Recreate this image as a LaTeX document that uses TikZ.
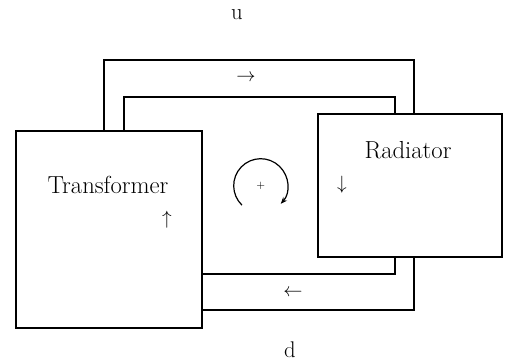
\documentclass[tikz,border=0pt]{standalone}
\usetikzlibrary{calc,arrows.meta}
\begin{document}
\begin{tikzpicture}[x=0.75pt,y=-0.75pt,
  box/.style={draw,line width=0.9pt,inner sep=0pt,outer sep=0pt},
  pipe/.style={line width=0.9pt},
  lbl/.style={inner sep=0pt,font=\fontsize{18.5}{22}\selectfont},
  ltr/.style={inner sep=0pt,font=\fontsize{17}{20}\selectfont},
  flow/.style={inner sep=0pt,font=\fontsize{14}{16}\selectfont}]
\useasboundingbox (0,0) rectangle (506,362);
% boxes
\node[box,minimum width=139.5pt,minimum height=147.75pt] (T) at (109,229.5) {};
\node[box,minimum width=138pt,minimum height=107.25pt] (R) at (410,185.5) {};
\node[lbl] (Tl) at (108,185) {Transformer};
\node[lbl] (Rl) at (408,150) {Radiator};
% pipes
\draw[pipe] ($(T.north west)+(88,0)$) -- ++(0,-71) -| ($(R.north west)+(96,0)$);
\draw[pipe] ($(T.north west)+(108,0)$) -- ++(0,-34) -| ($(R.north west)+(77,0)$);
\draw[pipe] ($(R.south west)+(77,0)$) |- ($(T.north east)+(0,143)$);
\draw[pipe] ($(R.south west)+(96,0)$) |- ($(T.north east)+(0,179)$);
% flow arrows
\node[flow] (ar1) at (246,78) {$\rightarrow$};
\node[flow] (ar2) at (293,293) {$\leftarrow$};
\node[flow] (ar3) at (167,220) {$\uparrow$};
\node[flow] (ar4) at (342,185) {$\downarrow$};
% circulation symbol
\coordinate (c) at (260.7,185.7);
\node[inner sep=0pt,font=\fontsize{8}{9}\selectfont] (plus) at (c) {+};
\draw[line width=0.9pt,-{Stealth[length=5pt,width=4pt]}] ($(c)+(226:27 and -27)$) arc[start angle=226,end angle=-42,x radius=27,y radius=-27];
% labels
\node[ltr] (u) at (237,15) {u};
\node[ltr] (d) at (290,350) {d};
\end{tikzpicture}
\end{document}
